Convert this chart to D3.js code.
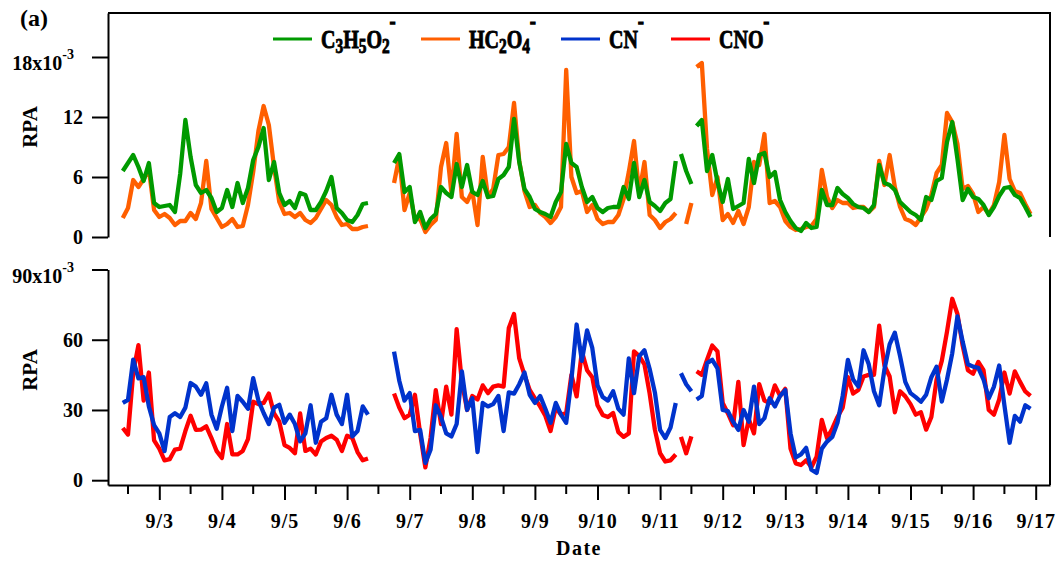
<!DOCTYPE html>
<html>
<head>
<meta charset="utf-8">
<script src="https://cdn.jsdelivr.net/npm/d3@7"></script>
<style>
  html, body { margin: 0; padding: 0; background: #fff; }
  svg { display: block; font-family: "Liberation Serif", "Times New Roman", serif; font-weight: bold; }
</style>
</head>
<body>
<svg id="chart" width="1061" height="563"></svg>
<script>
// ---- data ---------------------------------------------------------------
// Each series is split into measurement segments (gaps = instrument down time).
// Segment start: [day of September, hour]; samples every 2 hours.
const segmentStarts = [[2, 10], [6, 18], [11, 8], [11, 14]];
const stepHours = 2;

// C3H5O2- (RPA, x10^-3)
const c3h5o2 = [
  [6.6, 7.4, 8.2, 7.0, 5.6, 7.4, 3.4, 3.0, 3.1, 3.2, 2.5, 6.3, 11.7, 8.0, 5.2, 4.4, 4.7, 3.9, 2.5, 2.9,
   4.7, 3.0, 5.4, 3.4, 4.9, 7.7, 9.0, 10.9, 5.7, 7.5, 4.4, 3.2, 3.6, 2.9, 4.4, 4.2, 2.7, 2.7, 3.5, 4.6,
   6.0, 2.9, 2.4, 1.7, 1.5, 2.2, 3.3, 3.4],
  [7.4, 8.3, 4.5, 5.0, 1.5, 2.5, 0.9, 1.8, 2.3, 5.0, 4.4, 4.0, 7.3, 5.0, 7.2, 4.5, 4.2, 5.6, 4.0, 4.1,
   5.8, 6.2, 7.0, 11.8, 7.5, 4.8, 4.0, 2.8, 2.5, 2.3, 2.0, 3.5, 4.5, 9.3, 7.4, 7.0, 5.0, 3.5, 4.0, 2.9,
   2.5, 2.9, 3.0, 3.0, 5.0, 3.8, 7.4, 4.0, 5.7, 3.5, 3.1, 2.6, 3.4, 3.8, 7.6],
  [8.3, 6.6, 5.3],
  [11.1, 11.7, 6.6, 8.2, 5.5, 3.5, 5.8, 2.8, 3.1, 3.4, 7.8, 5.4, 8.2, 8.4, 6.0, 6.5, 3.7, 2.5, 1.6, 0.9,
   0.6, 1.4, 0.9, 1.0, 4.7, 3.2, 3.2, 4.9, 4.3, 3.9, 3.3, 3.0, 2.9, 2.5, 3.2, 7.2, 5.4, 5.2, 4.7, 3.5,
   3.0, 2.5, 2.2, 1.7, 4.0, 3.7, 5.6, 5.9, 9.5, 11.5, 7.8, 3.7, 4.8, 4.0, 3.8, 3.2, 2.2, 3.0, 4.1, 4.9,
   5.0, 4.2, 3.9, 3.0, 2.0]
];

// HC2O4- (RPA, x10^-3)
const hc2o4 = [
  [1.9, 2.9, 5.7, 5.0, 5.8, 6.8, 2.7, 2.0, 2.3, 1.9, 1.2, 1.6, 1.6, 2.4, 1.8, 3.4, 7.6, 2.8, 1.9, 1.0,
   1.3, 1.8, 1.0, 1.1, 3.2, 6.5, 10.6, 13.1, 11.2, 7.0, 3.5, 2.3, 2.4, 2.0, 2.4, 1.7, 1.4, 1.9, 2.8, 3.7,
   3.2, 2.0, 1.2, 1.3, 0.8, 0.8, 1.0, 1.1],
  [5.4, 8.0, 2.7, 4.4, 1.8, 1.8, 0.5, 1.2, 1.7, 7.0, 9.4, 4.4, 10.3, 4.0, 3.5, 4.6, 1.2, 8.0, 4.0, 4.8,
   8.2, 8.3, 9.0, 13.4, 7.6, 4.6, 3.0, 3.2, 2.4, 2.0, 1.4, 2.0, 3.0, 16.7, 6.0, 4.4, 4.6, 2.5, 3.2, 1.8,
   1.3, 1.5, 1.5, 2.2, 3.8, 6.5, 9.6, 4.4, 7.5, 2.2, 1.7, 0.9, 1.5, 1.8, 2.4],
  [null, 1.3, 3.4],
  [17.0, 17.4, 8.8, 4.2, 6.0, 1.7, 2.3, 1.4, 2.6, 1.3, 3.0, 7.5, 7.2, 10.3, 3.4, 3.6, 3.0, 1.6, 1.0, 0.7,
   0.8, 1.0, 1.1, 1.8, 6.7, 4.0, 2.9, 3.7, 3.4, 3.4, 2.9, 3.0, 3.0, 2.5, 3.0, 7.6, 5.2, 8.2, 5.0, 3.0,
   1.8, 1.6, 1.2, 2.0, 2.8, 4.2, 6.4, 7.2, 12.4, 11.5, 9.3, 4.8, 5.1, 4.3, 2.5, 3.0, 2.3, 3.2, 5.5, 10.2,
   5.8, 4.6, 4.4, 3.3, 2.3]
];

// CN- (RPA, x10^-3)
const cn = [
  [33.0, 34.3, 51.5, 43.5, 44.0, 31.5, 23.5, 20.0, 12.4, 27.0, 28.6, 27.0, 31.0, 41.5, 40.0, 36.5, 41.4, 28.0, 22.0, 31.5,
   39.5, 21.0, 36.0, 33.5, 30.5, 43.6, 34.0, 28.7, 24.0, 31.0, 32.2, 24.5, 28.0, 24.0, 16.6, 20.0, 32.0, 16.0, 25.0, 26.5,
   36.5, 28.0, 24.0, 36.5, 18.7, 21.0, 31.5, 28.0],
  [54.9, 42.5, 34.0, 37.2, 21.0, 21.5, 7.4, 13.0, 32.0, 27.0, 20.0, 18.7, 24.0, 46.5, 30.0, 35.0, 12.0, 33.0, 31.5, 32.5,
   36.0, 21.0, 37.5, 37.0, 41.0, 46.0, 36.5, 33.0, 36.0, 30.5, 24.5, 33.0, 28.0, 24.5, 42.9, 66.5, 51.0, 64.0, 56.5, 40.5,
   35.5, 34.0, 38.0, 30.5, 28.0, 52.0, 37.2, 53.0, 55.5, 47.5, 37.5, 21.5, 18.0, 22.5, 33.0],
  [45.7, 41.0, 38.0],
  [34.5, 36.0, 50.0, 51.4, 47.8, 30.0, 29.5, 25.0, 21.5, 30.0, 25.0, 40.0, 24.0, 26.5, 35.0, 31.5, 36.0, 38.5, 20.0, 9.7,
   11.0, 13.8, 4.5, 3.1, 13.5, 16.5, 18.5, 24.5, 36.0, 51.4, 43.0, 40.0, 55.5, 49.5, 38.0, 32.0, 47.3, 58.0, 63.0, 53.0,
   42.0, 37.2, 35.5, 33.5, 36.5, 44.0, 48.5, 33.6, 43.0, 54.2, 70.0, 59.2, 49.5, 48.5, 48.0, 43.0, 35.0, 40.0, 49.0, 32.0,
   16.0, 27.5, 25.0, 32.0, 30.5]
];

// CNO- (RPA, x10^-3)
const cno = [
  [22.3, 19.5, 46.0, 57.7, 34.0, 46.0, 17.0, 13.5, 8.5, 9.0, 13.1, 13.5, 21.0, 27.5, 21.5, 21.6, 23.0, 18.0, 12.4, 9.5,
   24.0, 11.0, 11.0, 12.5, 17.5, 33.5, 32.5, 33.0, 37.0, 28.5, 25.0, 15.0, 13.8, 11.5, 28.5, 12.5, 13.5, 11.0, 16.5, 18.0,
   19.0, 17.3, 12.5, 19.0, 18.0, 12.0, 8.5, 9.3],
  [37.0, 31.0, 26.5, 28.0, 36.5, 20.0, 5.5, 18.0, 38.5, 24.0, 40.0, 28.0, 64.5, 42.0, 30.0, 36.0, 34.5, 40.5, 37.2, 40.0,
   40.5, 40.0, 65.0, 71.0, 52.0, 45.0, 38.6, 35.0, 31.5, 27.5, 21.0, 31.0, 28.0, 28.7, 45.0, 35.8, 55.0, 47.0, 44.0, 32.0,
   27.9, 27.0, 28.7, 20.5, 18.5, 20.0, 55.0, 53.0, 49.5, 37.0, 21.6, 11.5, 8.0, 8.5, 11.0],
  [18.5, 11.5, 18.7],
  [46.5, 45.0, 51.5, 57.5, 55.0, 33.0, 28.5, 23.5, 42.0, 15.0, 26.0, 20.0, 41.0, 34.0, 33.0, 40.5, 36.0, 39.0, 13.5, 7.2,
   6.5, 8.5, 5.5, 10.0, 25.8, 18.0, 22.0, 27.0, 31.0, 44.0, 37.0, 38.5, 44.3, 45.0, 45.0, 66.0, 49.0, 44.3, 29.0, 38.0,
   35.8, 32.5, 28.0, 29.0, 21.6, 27.0, 43.0, 51.0, 63.5, 77.5, 71.0, 57.5, 47.0, 45.5, 50.5, 47.0, 30.0, 28.0, 34.5, 46.0,
   37.0, 46.5, 42.0, 37.9, 36.0]
];

const topTicks = [0, 6, 12, 18];
const bottomTicks = [0, 30, 60, 90];
const dayTicks = d3.range(3, 18);      // 9/3 ... 9/17 at midnight
const halfDayTicks = d3.range(2, 17);  // noon of 9/2 ... 9/16

const legendItems = [
  { color: "#009a00", parts: [["C", "n"], ["3", "sub"], ["H", "n"], ["5", "sub"], ["O", "n"], ["2", "sub"], ["-", "sup"]] },
  { color: "#ff5f00", parts: [["H", "n"], ["C", "n"], ["2", "sub"], ["O", "n"], ["4", "sub"], ["-", "sup"]] },
  { color: "#0033cc", parts: [["C", "n"], ["N", "n"], ["-", "sup"]] },
  { color: "#ff0000", parts: [["C", "n"], ["N", "n"], ["O", "n"], ["-", "sup"]] }
];

// ---- layout -------------------------------------------------------------
const svg = d3.select("#chart");
const left = 108, right = 1050;
const topPanel = { y0: 237, y1: 13 };
const botPanel = { y0: 485, y1: 269.5 };

const x = d3.scaleTime()
  .domain([new Date(2015, 8, 2, 4, 20), new Date(2015, 8, 17, 5, 29)])
  .range([left, right]);
const yTop = d3.scaleLinear().domain([0, 22.4]).range([topPanel.y0, topPanel.y1]);
const yBot = d3.scaleLinear().domain([-2.05, 90]).range([botPanel.y0, botPanel.y1]);

function toPoints(segs) {
  return segs.map((vals, s) => vals.map((v, k) => ({
    t: new Date(2015, 8, segmentStarts[s][0], segmentStarts[s][1] + stepHours * k),
    v
  })));
}

function drawSeries(segs, yScale, color) {
  const line = d3.line()
    .defined(d => d.v != null)
    .x(d => x(d.t))
    .y(d => yScale(d.v));
  svg.append("g")
    .selectAll("path")
    .data(toPoints(segs))
    .join("path")
    .attr("d", line)
    .attr("fill", "none")
    .attr("stroke", color)
    .attr("stroke-width", 4.3)
    .attr("stroke-linejoin", "round");
}

// series (green over orange, blue over red)
drawSeries(hc2o4, yTop, legendItems[1].color);
drawSeries(c3h5o2, yTop, legendItems[0].color);
drawSeries(cno, yBot, legendItems[3].color);
drawSeries(cn, yBot, legendItems[2].color);

// ---- axes ---------------------------------------------------------------
function styleAxis(g) {
  g.attr("font-size", null).attr("font-family", null).attr("stroke-width", 2);
  g.selectAll("text").attr("font-size", 20).attr("fill", "#000");
}

function yAxis(scale, ticks) {
  const g = svg.append("g")
    .attr("transform", `translate(${left},0)`)
    .call(d3.axisLeft(scale).tickValues(ticks).tickSize(16).tickSizeOuter(0).tickFormat(d3.format("d")));
  styleAxis(g);
  g.selectAll(".tick text").attr("dy", null).attr("x", -25).attr("y", 6.5);
  const topLabel = g.selectAll(".tick text").filter(d => d === ticks[ticks.length - 1]);
  topLabel.attr("x", -34).attr("y", 12.5);
  topLabel.append("tspan").attr("font-size", 14).attr("dy", -11).text("-3");
  topLabel.each(function (d) {
    this.firstChild.nodeValue = d + "x10";
  });
}
yAxis(yTop, topTicks);
yAxis(yBot, bottomTicks);

// time axis with day labels
const xg = svg.append("g")
  .attr("transform", `translate(0,${botPanel.y0})`)
  .call(d3.axisBottom(x)
    .tickValues(dayTicks.map(d => new Date(2015, 8, d)))
    .tickSize(15).tickSizeOuter(0)
    .tickFormat(d3.timeFormat("%-m/%-d")));
styleAxis(xg);
xg.selectAll(".tick text").attr("dy", null).attr("y", 43).attr("letter-spacing", 1);

// half-day minor ticks
svg.append("g")
  .selectAll("line")
  .data(halfDayTicks.map(d => new Date(2015, 8, d, 12)))
  .join("line")
  .attr("x1", d => x(d)).attr("x2", d => x(d))
  .attr("y1", botPanel.y0).attr("y2", botPanel.y0 + 9)
  .attr("stroke", "#000").attr("stroke-width", 2);

// frame lines
const frame = svg.append("g").attr("stroke", "#000").attr("stroke-width", 2).attr("fill", "none");
frame.append("path").attr("d", `M${left},${topPanel.y1}H${right}V${topPanel.y0}`);
frame.append("path").attr("d", `M${right},${botPanel.y1}V${botPanel.y0}`);

// ---- labels -------------------------------------------------------------
svg.append("text").attr("x", 20).attr("y", 26).attr("font-size", 24).text("(a)");

[127, 370].forEach(cy => {
  svg.append("text")
    .attr("transform", `translate(37,${cy}) rotate(-90)`)
    .attr("text-anchor", "middle")
    .attr("font-size", 21)
    .text("RPA");
});

svg.append("text")
  .attr("x", 579).attr("y", 555)
  .attr("text-anchor", "middle")
  .attr("font-size", 20)
  .attr("letter-spacing", 1.5)
  .text("Date");

// ---- legend -------------------------------------------------------------
const legendX = [273, 421, 561, 671];
const legendY = 39;
legendItems.forEach((item, i) => {
  const lx = legendX[i];
  svg.append("line")
    .attr("x1", lx).attr("x2", lx + 39)
    .attr("y1", legendY).attr("y2", legendY)
    .attr("stroke", item.color).attr("stroke-width", 3);
  const t = svg.append("g")
    .attr("transform", `translate(${lx + 48},48) scale(0.77,1)`)
    .append("text")
    .attr("fill", "#000")
    .attr("stroke", "#000")
    .attr("stroke-width", 0.9);
  item.parts.forEach(([s, kind]) => {
    t.append("tspan")
      .attr("y", kind === "sub" ? 5 : kind === "sup" ? -20 : 0)
      .attr("font-size", kind === "n" ? 26 : kind === "sub" ? 20 : 22)
      .attr("stroke-width", kind === "sup" ? 1.6 : 0.9)
      .text(s);
  });
});
</script>
</body>
</html>
